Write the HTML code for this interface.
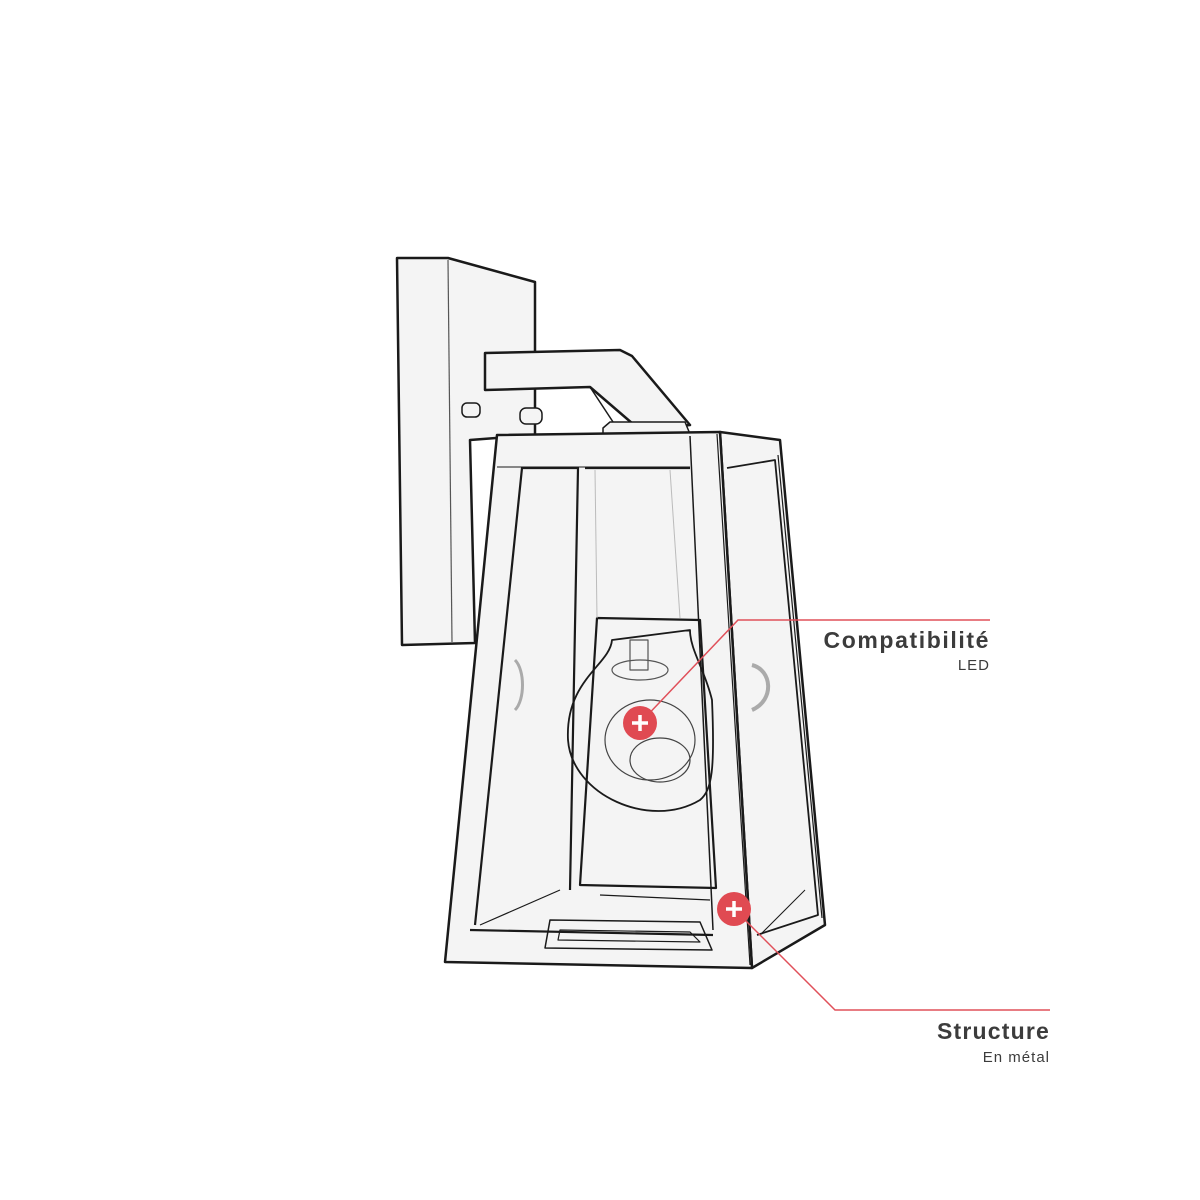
<!DOCTYPE html>
<html><head><meta charset="utf-8"><style>
html,body{margin:0;padding:0;background:#fff;width:1200px;height:1200px;overflow:hidden}
svg{position:absolute;left:0;top:0}
.t{font-family:"Liberation Sans",sans-serif;fill:#3c3c3c}
</style></head><body>
<svg width="1200" height="1200" viewBox="0 0 1200 1200">
<g fill="#f4f4f4" stroke="#1a1a1a" stroke-width="2.5" stroke-linejoin="round">
<polygon points="397,258 448,258 535,282 535,435 470,440 475,643 402,645"/>
<line x1="448" y1="260" x2="452" y2="642" stroke-width="1.2" stroke="#555"/>
<polygon points="485,353 620,350 632,356 690,425 640,430 590,387 485,390" />
<line x1="590" y1="387" x2="617" y2="428" stroke-width="1.5"/>
<rect x="462" y="403" width="18" height="14" rx="5" stroke-width="1.5"/>
<rect x="520" y="408" width="22" height="16" rx="6" stroke-width="1.5"/>
<polygon points="603,428 610,422 685,422 690,434 603,434" stroke-width="1.5"/>
<polygon points="720,432 780,440 825,925 752,968" />
<polygon points="497,435 720,432 752,968 445,962" />
</g>
<g fill="none" stroke="#1a1a1a" stroke-width="2.2" stroke-linejoin="round">
<polyline points="475,925 522,468 578,468 570,890"/>
<polyline points="585,468 690,468"/>
<line x1="497" y1="467" x2="690" y2="467" stroke-width="1"/>
<line x1="690" y1="436" x2="713" y2="930" stroke-width="1.5"/>
<line x1="717" y1="434" x2="750" y2="965" stroke-width="1.2"/>
<polygon points="597,618 700,620 716,888 580,885"/>
<polyline points="470,930 713,935"/>
<polygon points="550,920 700,922 712,950 545,948" stroke-width="1.5"/>
<polygon points="560,930 690,932 700,942 558,940" stroke-width="1.2"/>
<line x1="480" y1="925" x2="560" y2="890" stroke-width="1.2"/>
<line x1="600" y1="895" x2="710" y2="900" stroke-width="1.2"/>
<polyline points="727,468 775,460 818,915 757,935" stroke-width="1.8"/>
<line x1="778" y1="455" x2="822" y2="918" stroke-width="1.2"/>
<line x1="760" y1="935" x2="805" y2="890" stroke-width="1"/>
<path d="M612,640 C610,665 565,680 568,740 C572,795 650,830 700,800 C712,790 715,770 712,700 C705,670 690,650 690,630 Z" stroke-width="1.8"/>
<ellipse cx="650" cy="740" rx="45" ry="40" stroke-width="1.2" stroke="#444"/>
<ellipse cx="660" cy="760" rx="30" ry="22" stroke-width="1.2" stroke="#444"/>
<ellipse cx="640" cy="670" rx="28" ry="10" stroke-width="1.2" stroke="#555"/>
<rect x="630" y="640" width="18" height="30" stroke-width="1.2" stroke="#555"/>
<path d="M515,660 C525,670 525,700 515,710" stroke="#aaa" stroke-width="3"/>
<path d="M752,665 C772,670 775,700 752,710" stroke="#aaa" stroke-width="4"/>
<line x1="595" y1="470" x2="597" y2="618" stroke="#bbb" stroke-width="1"/>
<line x1="670" y1="470" x2="680" y2="618" stroke="#bbb" stroke-width="1"/>
</g>
<g stroke="#e0505a" stroke-width="1.5" fill="none">
<polyline points="640,723 738,620 990,620"/>
<polyline points="734,909 835,1010 1050,1010"/>
</g>
<g>
<circle cx="640" cy="723" r="17" fill="#e04a52"/>
<path d="M632,723h16M640,715v16" stroke="#fff" stroke-width="3.5"/>
<circle cx="734" cy="909" r="17" fill="#e04a52"/>
<path d="M726,909h16M734,901v16" stroke="#fff" stroke-width="3.5"/>
</g>
<text class="t" x="990" y="648" text-anchor="end" font-size="23" font-weight="bold" letter-spacing="1.6">Compatibilité</text>
<text class="t" x="990" y="670" text-anchor="end" font-size="15" letter-spacing="1">LED</text>
<text class="t" x="1050" y="1039" text-anchor="end" font-size="23" font-weight="bold" letter-spacing="1.2">Structure</text>
<text class="t" x="1050" y="1062" text-anchor="end" font-size="15" letter-spacing="1">En métal</text>
</svg>
</body></html>
